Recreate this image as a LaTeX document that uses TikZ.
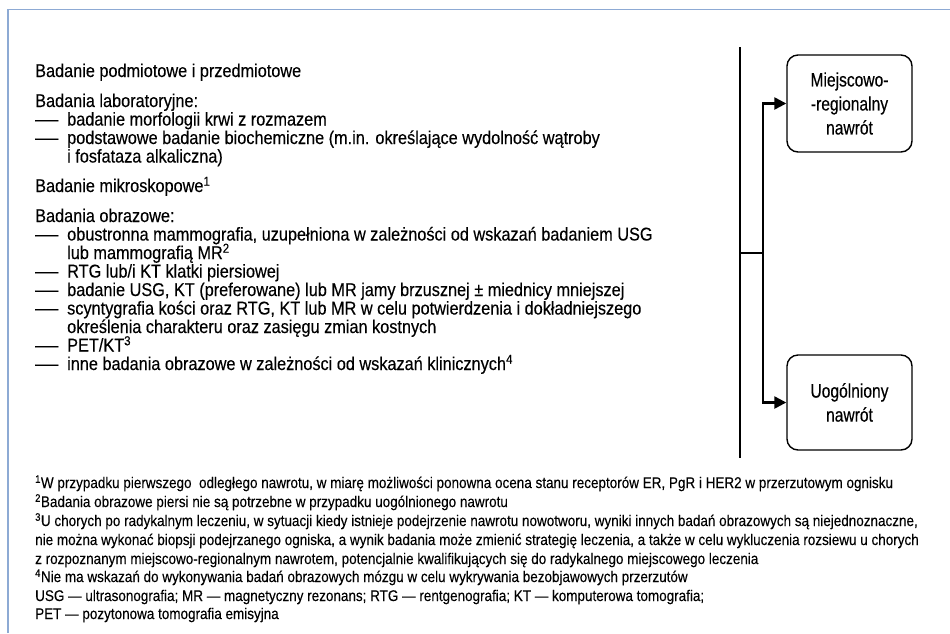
\documentclass[tikz,border=0pt]{standalone}
\usepackage{fontspec}
\usepackage{graphicx}
\setmainfont{Liberation Sans}
\newfontfamily\bodyfont[FakeStretch=0.88,FakeBold=0.3]{Liberation Sans}
\newfontfamily\notefont[FakeStretch=0.87,FakeBold=0.2]{Liberation Sans}
\newfontfamily\boxfont[FakeStretch=0.8,FakeBold=0.3]{Liberation Sans}
\usetikzlibrary{arrows.meta}
\definecolor{framecol}{RGB}{141,170,212}
\newcommand\itemdash{\scalebox{1.42}[1]{—}}

\tikzset{
  body/.style={anchor=base west, inner sep=0pt, font=\bodyfont\fontsize{18.5}{18.5}\selectfont},
  note/.style={anchor=base west, inner sep=0pt, font=\notefont\fontsize{15.5}{18.7}\selectfont},
  outcome/.style={draw, line width=1.4pt, rounded corners=11pt, minimum width=125pt,
    align=center, inner sep=0pt, font=\boxfont\fontsize{19.5}{24}\selectfont},
  flow/.style={line width=2.4pt, line join=miter},
  arr/.style={flow, -{Triangle[length=12pt,width=12pt]}}
}

\begin{document}
\begin{tikzpicture}[x=1pt,y=-1pt]
\useasboundingbox (0,0) rectangle (950,633);

% frame
\draw[framecol, line width=1.6pt] (8,633) -- (8,9.5) -- (950,9.5);

% left column: examinations
\node[body] (h1) at (35,77) {Badanie podmiotowe i przedmiotowe};
\node[body] (h2) at (35,107) {Badania laboratoryjne:};
\node[body] (d3) at (35,125.5) {\itemdash};
\node[body] (t3) at (67,125.5) {badanie morfologii krwi z rozmazem};
\node[body] (d4) at (35,144) {\itemdash};
\node[body] (t4) at (67,144) {podstawowe badanie biochemiczne (m.in. określające wydolność wątroby};
\node[body] (t5) at (67,162.5) {i fosfataza alkaliczna)};
\node[body] (h3) at (35,192) {Badanie mikroskopowe\textsuperscript{1}};
\node[body] (h4) at (35,222) {Badania obrazowe:};
\node[body] (d8) at (35,240.5) {\itemdash};
\node[body] (t8) at (67,240.5) {obustronna mammografia, uzupełniona w zależności od wskazań badaniem USG};
\node[body] (t9) at (67,259) {lub mammografią MR\textsuperscript{2}};
\node[body] (d10) at (35,277.5) {\itemdash};
\node[body] (t10) at (67,277.5) {RTG lub/i KT klatki piersiowej};
\node[body] (d11) at (35,296) {\itemdash};
\node[body] (t11) at (67,296) {badanie USG, KT (preferowane) lub MR jamy brzusznej ± miednicy mniejszej};
\node[body] (d12) at (35,314.5) {\itemdash};
\node[body] (t12) at (67,314.5) {scyntygrafia kości oraz RTG, KT lub MR w celu potwierdzenia i dokładniejszego};
\node[body] (t13) at (67,333) {określenia charakteru oraz zasięgu zmian kostnych};
\node[body] (d14) at (35,351.5) {\itemdash};
\node[body] (t14) at (67,351.5) {PET/KT\textsuperscript{3}};
\node[body] (d15) at (35,370) {\itemdash};
\node[body] (t15) at (67,370) {inne badania obrazowe w zależności od wskazań klinicznych\textsuperscript{4}};

% right column: outcomes
\node[outcome, minimum height=97pt] (loc) at (849.5,103.5) {Miejscowo-\\-regionalny\\nawrót};
\node[outcome, minimum height=95pt] (gen) at (849.5,402.5) {Uogólniony\\nawrót};

% connectors
\coordinate (bartop) at (740,47);
\coordinate (barbot) at (740,458);
\coordinate (split) at (740,253);
\coordinate (fork) at (763,253);
\draw[flow] (bartop) -- (barbot);
\draw[flow] (split) -- (fork);
\draw[arr] (fork) |- (loc.west);
\draw[arr] (fork) |- (gen.west);

% footnotes
\node[note] (n1) at (35,488) {\textsuperscript{1}W przypadku pierwszego~ odległego nawrotu, w miarę możliwości ponowna ocena stanu receptorów ER, PgR i HER2 w przerzutowym ognisku};
\node[note] (n2) at (35,507) {\textsuperscript{2}Badania obrazowe piersi nie są potrzebne w przypadku uogólnionego nawrotu};
\node[note] (n3) at (35,526) {\textsuperscript{3}U chorych po radykalnym leczeniu, w sytuacji kiedy istnieje podejrzenie nawrotu nowotworu, wyniki innych badań obrazowych są niejednoznaczne,};
\node[note] (n4) at (35,545) {nie można wykonać biopsji podejrzanego ogniska, a wynik badania może zmienić strategię leczenia, a także w celu wykluczenia rozsiewu u chorych};
\node[note] (n5) at (35,564) {z rozpoznanym miejscowo-regionalnym nawrotem, potencjalnie kwalifikujących się do radykalnego miejscowego leczenia};
\node[note] (n6) at (35,582) {\textsuperscript{4}Nie ma wskazań do wykonywania badań obrazowych mózgu w celu wykrywania bezobjawowych przerzutów};
\node[note] (n7) at (35,601) {USG — ultrasonografia; MR — magnetyczny rezonans; RTG — rentgenografia; KT — komputerowa tomografia;};
\node[note] (n8) at (35,619) {PET — pozytonowa tomografia emisyjna};
\end{tikzpicture}
\end{document}
